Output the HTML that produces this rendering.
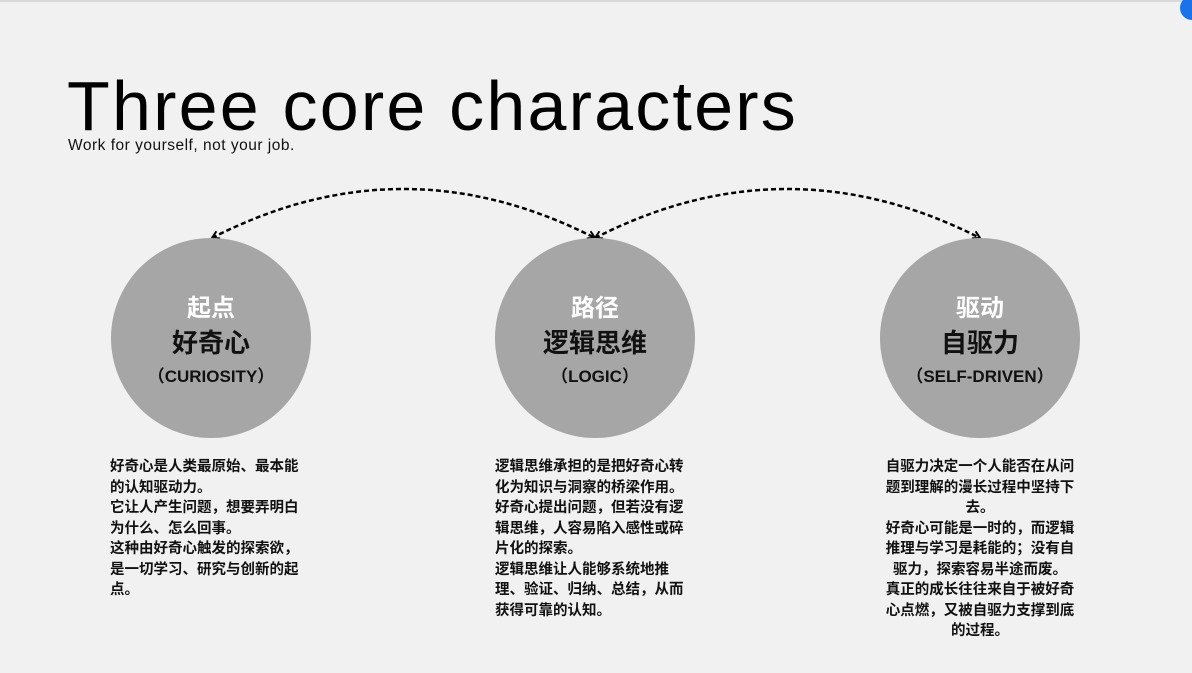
<!DOCTYPE html>
<html><head><meta charset="utf-8"><style>
body{margin:0;width:1192px;height:673px;background:#f1f1f1;overflow:hidden;position:relative;font-family:"Liberation Sans","Noto Sans CJK SC",sans-serif;}
.top{position:absolute;left:0;top:0;width:1192px;height:2px;background:#d9d9d9}
.blue{position:absolute;left:1180px;top:-4px;width:24px;height:24px;border-radius:50%;background:#1a73e8}
h1{position:absolute;left:67px;top:66px;margin:0;font-size:70px;font-weight:normal;letter-spacing:2.2px;color:#000;line-height:80px;white-space:nowrap}
.sub{position:absolute;left:68px;top:137px;font-size:15.5px;letter-spacing:0.5px;color:#111}
.c{position:absolute;width:200px;height:200px;border-radius:50%;background:#a6a6a6;top:238px;text-align:center;font-weight:bold}
.c .a{position:absolute;width:100%;top:50px;font-size:24px;color:#fff}
.c .b{position:absolute;width:100%;top:85px;font-size:26px;color:#111}
.c .d{position:absolute;width:100%;top:124px;font-size:17px;color:#111}
.t{position:absolute;top:457px;font-size:14.5px;font-weight:bold;line-height:20.5px;color:#111;white-space:nowrap}
</style></head><body>
<div class="top"></div><div class="blue"></div>
<h1>Three core characters</h1>
<div class="sub">Work for yourself, not your job.</div>
<svg width="1192" height="673" style="position:absolute;left:0;top:0">
<defs><marker id="m" markerWidth="10" markerHeight="10" refX="8" refY="5" orient="auto-start-reverse" markerUnits="userSpaceOnUse"><path d="M1,1 L8,5 L1,9" fill="none" stroke="#000" stroke-width="2"/></marker></defs>
<path d="M212,238 Q403,140 595,238" fill="none" stroke="#000" stroke-width="2.5" stroke-dasharray="5,3" marker-start="url(#m)" marker-end="url(#m)"/>
<path d="M595,238 Q787,140 980,238" fill="none" stroke="#000" stroke-width="2.5" stroke-dasharray="5,3" marker-start="url(#m)" marker-end="url(#m)"/>
</svg>
<div class="c" style="left:111px"><div class="a">起点</div><div class="b">好奇心</div><div class="d">（CURIOSITY）</div></div>
<div class="c" style="left:495px"><div class="a">路径</div><div class="b">逻辑思维</div><div class="d">（LOGIC）</div></div>
<div class="c" style="left:880px"><div class="a">驱动</div><div class="b">自驱力</div><div class="d">（SELF-DRIVEN）</div></div>
<div class="t" style="left:110px;width:200px">好奇心是人类最原始、最本能<br>的认知驱动力。<br>它让人产生问题，想要弄明白<br>为什么、怎么回事。<br>这种由好奇心触发的探索欲，<br>是一切学习、研究与创新的起<br>点。</div>
<div class="t" style="left:495px;width:200px">逻辑思维承担的是把好奇心转<br>化为知识与洞察的桥梁作用。<br>好奇心提出问题，但若没有逻<br>辑思维，人容易陷入感性或碎<br>片化的探索。<br>逻辑思维让人能够系统地推<br>理、验证、归纳、总结，从而<br>获得可靠的认知。</div>
<div class="t" style="left:880px;width:200px;text-align:center">自驱力决定一个人能否在从问<br>题到理解的漫长过程中坚持下<br>去。<br>好奇心可能是一时的，而逻辑<br>推理与学习是耗能的；没有自<br>驱力，探索容易半途而废。<br>真正的成长往往来自于被好奇<br>心点燃，又被自驱力支撑到底<br>的过程。</div>
</body></html>
